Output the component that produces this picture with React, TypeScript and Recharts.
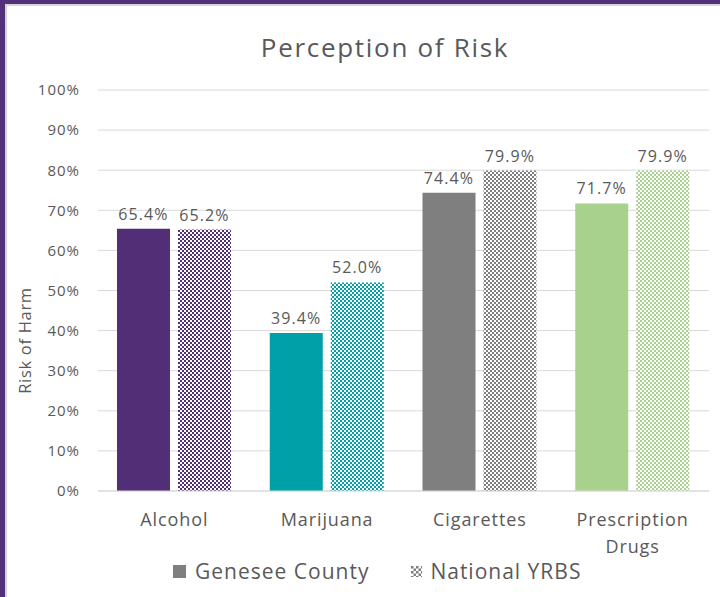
import React from 'react';
import { BarChart, Bar, XAxis, YAxis, CartesianGrid, Cell, LabelList } from 'recharts';

const categories = ['Alcohol', 'Marijuana', 'Cigarettes', 'Prescription Drugs'];
const geneseeValues = [65.4, 39.4, 74.4, 71.7];
const nationalValues = [65.2, 52.0, 79.9, 79.9];
const yTicks = [0, 10, 20, 30, 40, 50, 60, 70, 80, 90, 100];
const seriesNames = ['Genesee County', 'National YRBS'];
const categoryColors = ['#512E75', '#00A0A8', '#7F7F7F', '#A8D18D'];
const chartTitle = 'Perception of Risk';
const yAxisTitle = 'Risk of Harm';

const data = categories.map((c, i) => ({
  category: c,
  genesee: geneseeValues[i],
  national: nationalValues[i],
}));

const FONT = '"Open Sans", sans-serif';
const TEXT = '#595959';

const CategoryTick = (props: any) => {
  const { x, y, payload } = props;
  const value: string = payload.value;
  const lines = value.length > 12 ? value.split(' ') : [value];
  return (
    <text x={x} y={y} textAnchor="middle" fill={TEXT} fontSize={18} fontFamily={FONT} letterSpacing={0.9}>
      {lines.map((l, i) => (
        <tspan key={i} x={x} dy={i === 0 ? 35 : 27}>
          {l}
        </tspan>
      ))}
    </text>
  );
};

const Patterns = () => (
  <svg width={0} height={0} style={{ position: 'absolute' }}>
    <defs>
      {categoryColors.map((c, i) => (
        <pattern key={i} id={`chk-${i}`} width={4} height={4} patternUnits="userSpaceOnUse">
          <rect x={0} y={0} width={4} height={4} fill="#ffffff" />
          <rect x={0} y={0} width={2} height={2} fill={c} />
          <rect x={2} y={2} width={2} height={2} fill={c} />
        </pattern>
      ))}
      <pattern id="chk-legend" width={5} height={5} patternUnits="userSpaceOnUse">
        <rect x={0} y={0} width={5} height={5} fill="#ffffff" />
        <rect x={0} y={0} width={2.5} height={2.5} fill="#7F7F7F" />
        <rect x={2.5} y={2.5} width={2.5} height={2.5} fill="#7F7F7F" />
      </pattern>
    </defs>
  </svg>
);

export default function App() {
  return (
    <div style={{ position: 'absolute', left: 0, top: 0, width: 720, height: 597, background: '#ffffff', overflow: 'hidden' }}>
      <Patterns />
      <div
        style={{
          position: 'absolute',
          left: 0,
          top: 32,
          width: 770,
          textAlign: 'center',
          fontFamily: FONT,
          fontSize: 26,
          letterSpacing: 1.7,
          color: TEXT,
          lineHeight: '30px',
        }}
      >
        {chartTitle}
      </div>
      <div style={{ position: 'absolute', left: 0, top: 0 }}>
        <BarChart
          width={720}
          height={597}
          data={data}
          margin={{ top: 90, right: 11, left: 0, bottom: 46 }}
          barGap={8}
          barSize={53}
        >
          <CartesianGrid vertical={false} stroke="#D9D9D9" />
          <XAxis
            dataKey="category"
            height={60}
            axisLine={{ stroke: '#D9D9D9' }}
            tickLine={false}
            tickSize={0}
            tickMargin={0}
            interval={0}
            tick={<CategoryTick />}
          />
          <YAxis
            width={98}
            domain={[0, 100]}
            ticks={yTicks}
            tickFormatter={(v: number) => `${v}%`}
            axisLine={false}
            tickLine={false}
            tickSize={0}
            tickMargin={18}
            tick={{ fill: TEXT, fontSize: 15, fontFamily: FONT, letterSpacing: 1 }}
            label={{
              value: yAxisTitle,
              angle: -90,
              position: 'insideLeft',
              offset: 0,
              dx: 25,
              dy: 50,
              style: { fill: TEXT, fontSize: 16.5, fontFamily: FONT, letterSpacing: 0.7, textAnchor: 'middle' },
            }}
          />
          <Bar dataKey="genesee" name={seriesNames[0]} isAnimationActive={false}>
            {data.map((_, i) => (
              <Cell key={i} fill={categoryColors[i]} />
            ))}
            <LabelList
              dataKey="genesee"
              position="top"
              offset={9}
              formatter={(v: any) => `${Number(v).toFixed(1)}%`}
              style={{ fill: TEXT, fontSize: 16, fontFamily: FONT, letterSpacing: 1.1 }}
            />
          </Bar>
          <Bar dataKey="national" name={seriesNames[1]} isAnimationActive={false}>
            {data.map((_, i) => (
              <Cell key={i} fill={`url(#chk-${i})`} />
            ))}
            <LabelList
              dataKey="national"
              position="top"
              offset={9}
              formatter={(v: any) => `${Number(v).toFixed(1)}%`}
              style={{ fill: TEXT, fontSize: 16, fontFamily: FONT, letterSpacing: 1.1 }}
            />
          </Bar>
        </BarChart>
      </div>
      <div
        style={{
          position: 'absolute',
          left: 173,
          top: 556,
          height: 30,
          display: 'flex',
          alignItems: 'center',
          fontFamily: FONT,
          fontSize: 21,
          letterSpacing: 1,
          color: TEXT,
          whiteSpace: 'nowrap',
        }}
      >
        <svg width={13} height={13} style={{ marginRight: 9 }}>
          <rect x={0} y={0} width={13} height={13} fill="#7F7F7F" />
        </svg>
        <span>{seriesNames[0]}</span>
        <svg width={11} height={11} style={{ marginLeft: 42, marginRight: 8 }}>
          <rect x={0} y={0} width={11} height={11} fill="url(#chk-legend)" />
        </svg>
        <span>{seriesNames[1]}</span>
      </div>
      <div style={{ position: 'absolute', left: 0, top: 0, width: 720, height: 4, background: '#52307A' }} />
      <div style={{ position: 'absolute', left: 5, top: 4, width: 715, height: 2, background: '#D4D4D4' }} />
      <div style={{ position: 'absolute', left: 0, top: 0, width: 5, height: 597, background: '#52307A' }} />
      <div style={{ position: 'absolute', left: 5, top: 4, width: 2, height: 593, background: '#D4D4D4' }} />
    </div>
  );
}
